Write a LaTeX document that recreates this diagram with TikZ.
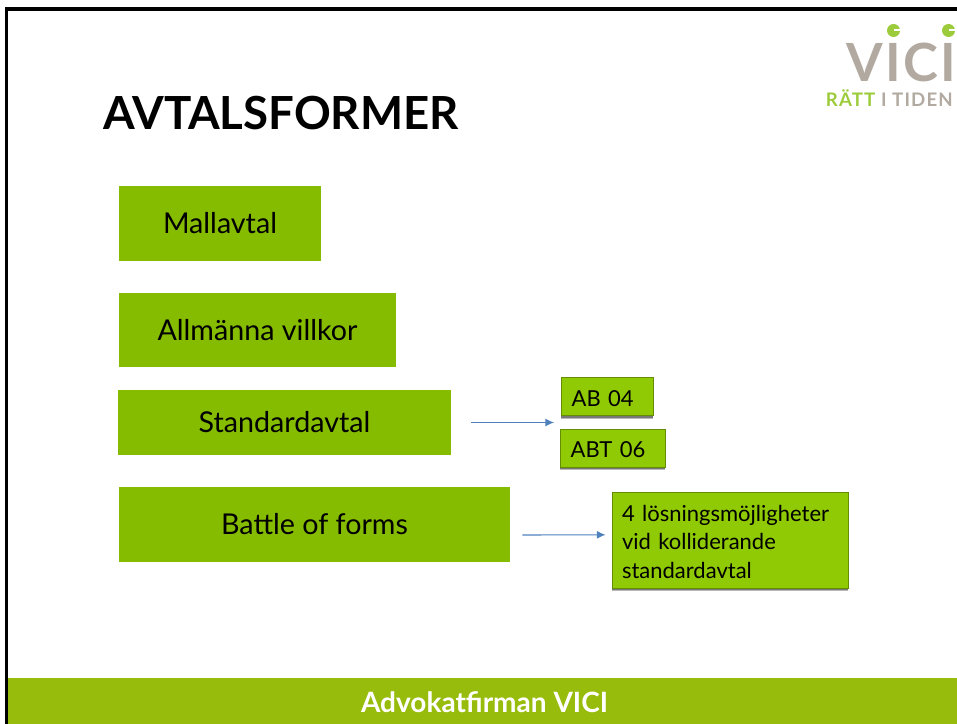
\documentclass[tikz,border=0pt]{standalone}
\usepackage{xcolor}
\usepackage{fontspec}
\setmainfont{Lato}
\usepackage{tikz}
\usetikzlibrary{shadows}
\usetikzlibrary{arrows.meta}
\definecolor{mainGreen}{HTML}{86BC00}
\definecolor{smallGreen}{HTML}{8FCA04}
\definecolor{footGreen}{HTML}{97BC0B}
\definecolor{logoGrey}{HTML}{B2AAA0}
\definecolor{logoGreen}{HTML}{9CCB3B}
\definecolor{flowBlue}{HTML}{4F81BD}
\newcommand{\boxstrut}{\rule{0pt}{15pt}}
\tikzset{main node/.style={fill=mainGreen,inner sep=0pt,font=\fontsize{21.5}{26}\selectfont},}
\tikzset{small node/.style={fill=smallGreen,draw=smallGreen!70!black,line width=.7pt,general shadow={shadow xshift=0pt,shadow yshift=-2.6pt,opacity=.28,fill=black},general shadow={shadow xshift=0pt,shadow yshift=-1.6pt,opacity=.35,fill=black},inner ysep=0pt,align=left,font=\fontsize{16.5}{21.5}\selectfont},}
\tikzset{flow line/.style={draw=flowBlue,line width=.8pt,-{Latex[length=6.5pt,width=6pt]}},}
\begin{document}
\begin{tikzpicture}[x=.75pt,y=-.75pt]
	\useasboundingbox (0,0) rectangle (957,724);

	% frame and footer
	\fill[black] (4.5,7.5) rectangle (957,11.5);
	\fill[black] (4.5,7.5) rectangle (8,724);
	\fill[footGreen] (8,678) rectangle (957,724);
	\node[text=white,font=\fontsize{21}{25}\selectfont\bfseries] (foot) at (484.5,702) {Advokatfirman VICI};

	% logo
	\node[text=logoGrey,inner sep=0pt,font=\fontsize{39.5}{40}\selectfont\bfseries\addfontfeature{LetterSpace=4},anchor=base east] (vici) at (956,82) {VICI};
	\fill[logoGreen] (893.5,30.5) circle (6.5);
	\fill[logoGreen] (948.5,30.5) circle (6.5);
	\fill[white] (894,29.5) rectangle (901,31.5);
	\fill[white] (949,29.5) rectangle (956,31.5);
	\node[inner sep=0pt,anchor=base east,text=logoGrey,font=\fontsize{14}{16}\selectfont\bfseries\addfontfeature{LetterSpace=6}] (tag) at (953,107) {\textcolor{logoGreen}{RÄTT} I TIDEN};

	\node[inner sep=0pt,anchor=west,font=\fontsize{34.2}{40}\selectfont\bfseries] (title) at (103,113) {AVTALSFORMER};

	\node[main node,minimum width=151.5pt,minimum height=56.25pt] (mall) at (220,223.5) {Mallavtal};
	\node[main node,minimum width=207.75pt,minimum height=55.5pt] (allm) at (257.5,330) {Allmänna villkor};
	\node[main node,minimum width=249.75pt,minimum height=48.75pt] (std) at (284.5,422.5) {Standardavtal};
	\node[main node,minimum width=293.25pt,minimum height=56.25pt] (battle) at (314.5,524.5) {Battle of forms};

	\node[small node,text width=53pt,inner xsep=8pt,minimum height=28.5pt] (ab) at (607,396.5) {\boxstrut AB 04};
	\node[small node,text width=62.75pt,inner xsep=8pt,minimum height=28.5pt] (abt) at (612.5,448) {\boxstrut ABT 06};
	\node[small node,text width=162pt,inner xsep=7.5pt,minimum height=72pt] (solve) at (730,540) {\boxstrut 4 lösningsmöjligheter\\vid kolliderande\\standardavtal};

	\coordinate (gap) at (554,422.5);
	\path[flow line,shorten <=15pt] (std.east) -- (gap);
	\path[flow line,shorten <=9pt,shorten >=4.5pt] ([yshift=-7.9pt]battle.east) -- ([yshift=3.9pt]solve.west);

\end{tikzpicture}
\end{document}
